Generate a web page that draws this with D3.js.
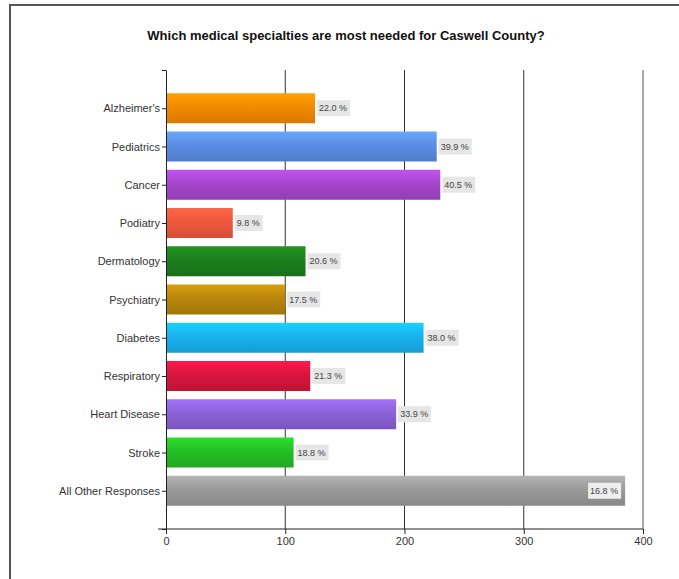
<!DOCTYPE html>
<html>
<head>
<meta charset="utf-8">
<script src="https://cdn.jsdelivr.net/npm/d3@7"></script>
<style>
  body { margin: 0; background: #fff; }
  text { font-family: "Liberation Sans", Arial, sans-serif; }
</style>
</head>
<body>
<svg id="chart"></svg>
<script>
/* data */
var categories = ["Alzheimer's", "Pediatrics", "Cancer", "Podiatry", "Dermatology", "Psychiatry",
  "Diabetes", "Respiratory", "Heart Disease", "Stroke", "All Other Responses"];
var counts = [125, 227, 230, 56, 117, 100, 216, 121, 193, 107, 385];
var percents = ["22.0 %", "39.9 %", "40.5 %", "9.8 %", "20.6 %", "17.5 %", "38.0 %", "21.3 %", "33.9 %", "18.8 %", "16.8 %"];
var colors = ["#f48a00", "#5a8ee4", "#a546cc", "#f0583e", "#1c7f1c", "#b9860c",
  "#18b2ee", "#d8163e", "#8b62d6", "#25bf25", "#9a9a9a"];
var xTicks = [0, 100, 200, 300, 400];

var width = 679, height = 579;
var svg = d3.select("#chart").attr("width", width).attr("height", height);

/* frame (only top and left edges are in the crop) */
svg.append("path")
  .attr("d", "M10,579 V5 H679")
  .attr("fill", "none")
  .attr("stroke", "#555")
  .attr("stroke-width", 2);

svg.append("text")
  .attr("x", 346)
  .attr("y", 40)
  .attr("text-anchor", "middle")
  .attr("font-size", 13)
  .attr("font-weight", "bold")
  .attr("fill", "#111")
  .text("Which medical specialties are most needed for Caswell County?");

var x = d3.scaleLinear().domain([0, 400]).range([166, 643]);
var y = d3.scalePoint().domain(categories).range([70, 529]).padding(1);
var barH = 30;

/* gradients, lighter on top */
var defs = svg.append("defs");
colors.forEach(function(c, i) {
  var g = defs.append("linearGradient")
    .attr("id", "grad" + i)
    .attr("x1", 0).attr("y1", 0).attr("x2", 0).attr("y2", 1);
  g.append("stop").attr("offset", "0%").attr("stop-color", d3.color(c).brighter(0.45));
  g.append("stop").attr("offset", "45%").attr("stop-color", c);
  g.append("stop").attr("offset", "100%").attr("stop-color", d3.color(c).darker(0.35));
});

/* grid lines */
svg.selectAll(".grid")
  .data(xTicks.slice(1))
  .enter()
  .append("line")
  .attr("x1", function(d) { return x(d); })
  .attr("x2", function(d) { return x(d); })
  .attr("y1", 70)
  .attr("y2", 529)
  .attr("stroke", function(d) { return d == 400 ? "#aaa" : "#333"; })
  .attr("stroke-width", function(d) { return d == 400 ? 2 : 1; });

/* bars */
var rows = categories.map(function(c, i) {
  return { name: c, value: counts[i], pct: percents[i], i: i };
});

svg.selectAll(".bar")
  .data(rows)
  .enter()
  .append("rect")
  .attr("class", "bar")
  .attr("x", x(0))
  .attr("y", function(d) { return y(d.name) - barH / 2; })
  .attr("width", function(d) { return x(d.value) - x(0); })
  .attr("height", barH)
  .attr("fill", function(d) { return "url(#grad" + d.i + ")"; });

/* value labels with grey box; last one sits inside the bar */
var lab = svg.selectAll(".lab")
  .data(rows)
  .enter()
  .append("g")
  .attr("transform", function(d) {
    var inside = d.i == rows.length - 1;
    var lx = inside ? x(d.value) - 37 : x(d.value) + 2;
    return "translate(" + lx + "," + y(d.name) + ")";
  });

lab.append("rect")
  .attr("x", 0)
  .attr("y", -8)
  .attr("width", function(d) { return d.pct.length * 5 + 3; })
  .attr("height", 16)
  .attr("fill", function(d) { return d.i == rows.length - 1 ? "#eeeeee" : "#e6e6e6"; });

lab.append("text")
  .attr("x", 2)
  .attr("y", 3)
  .attr("font-size", 9)
  .attr("fill", "#444")
  .text(function(d) { return d.pct; });

/* axes */
var yAxis = svg.append("g")
  .attr("transform", "translate(166,0)")
  .call(d3.axisLeft(y).tickSize(4).tickSizeOuter(4).tickPadding(2));

var xAxis = svg.append("g")
  .attr("transform", "translate(0,529)")
  .call(d3.axisBottom(x).tickValues(xTicks).tickSize(5).tickSizeOuter(0).tickPadding(3));

xAxis.select(".domain").attr("d", "M158,0H643");

[yAxis, xAxis].forEach(function(a) {
  a.select(".domain").attr("stroke", "#222");
  a.selectAll(".tick line").attr("stroke", "#222");
  a.selectAll("text")
    .attr("font-family", "Liberation Sans, Arial, sans-serif")
    .attr("font-size", 11)
    .attr("fill", "#333");
});
</script>
</body>
</html>
